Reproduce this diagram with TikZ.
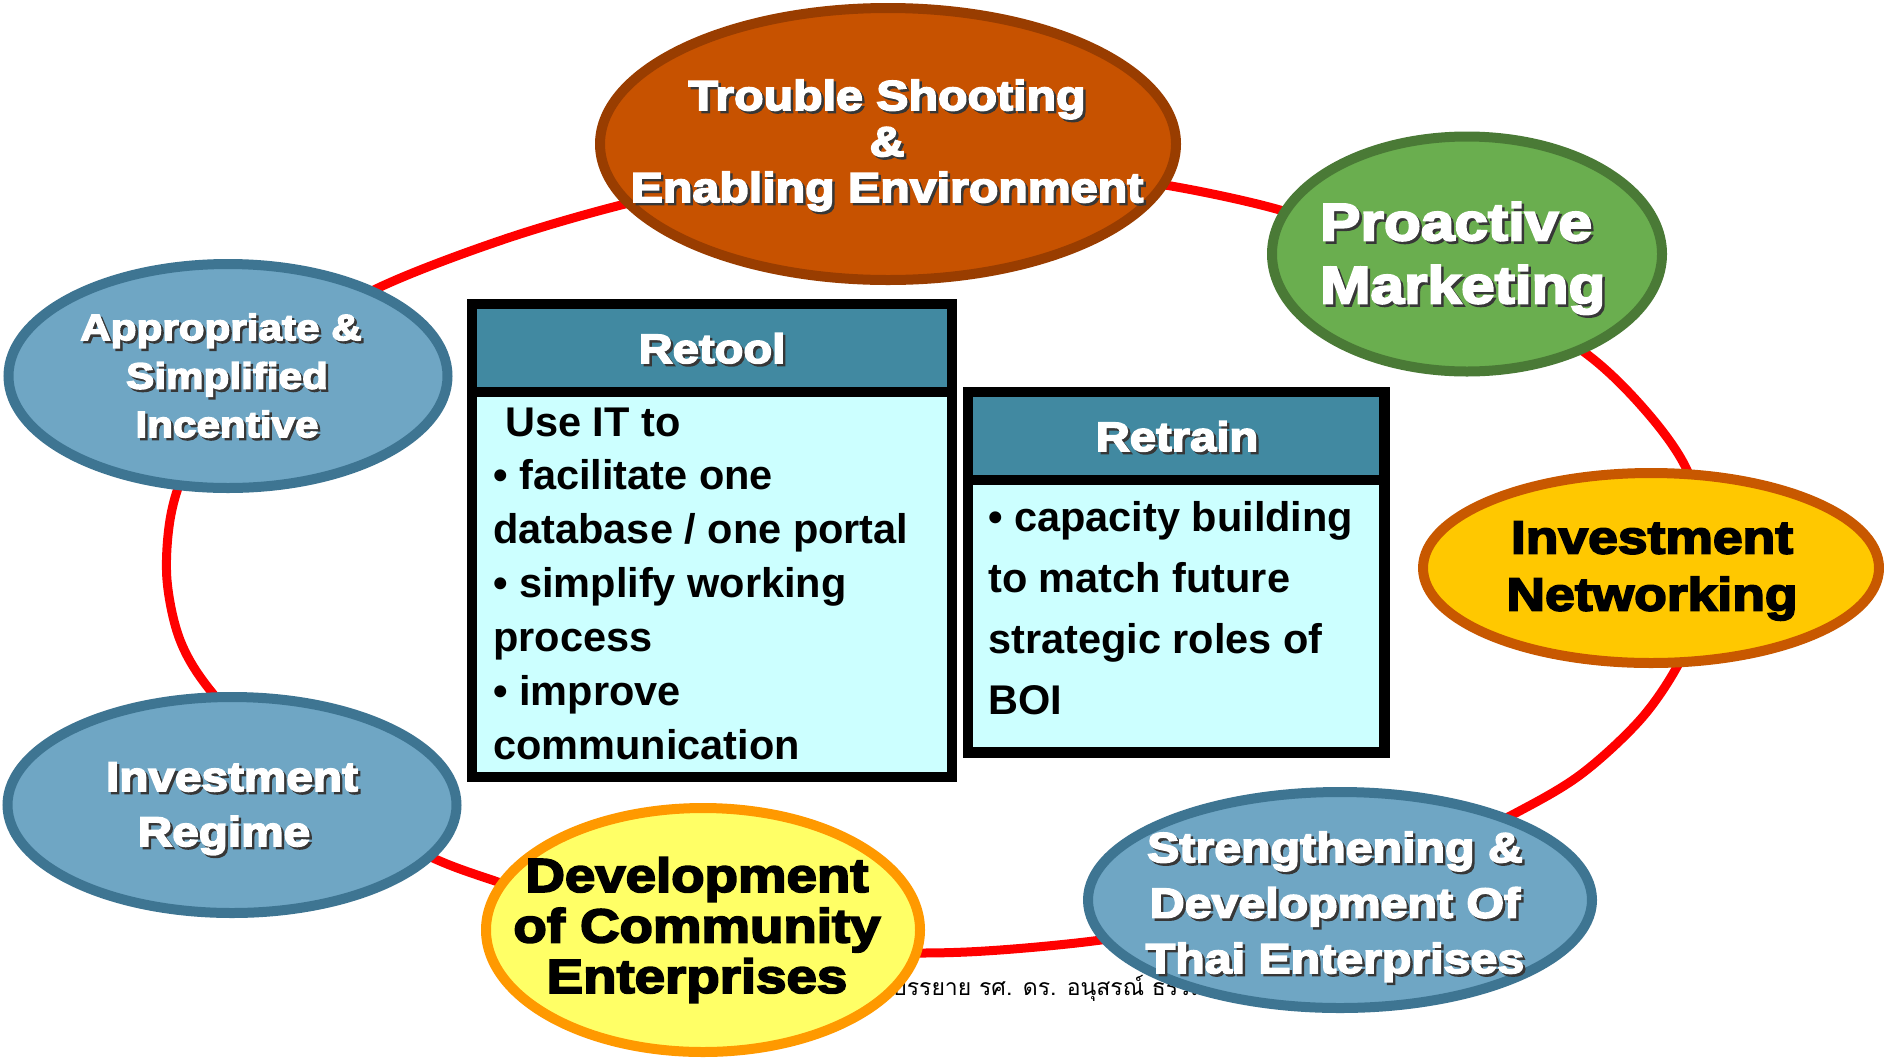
\documentclass[tikz,border=0pt]{standalone}
\usepackage{fontspec}
\setmainfont{Liberation Sans}
\newfontfamily\blackfont{Liberation Sans Bold}[FakeStretch=1.15,FakeBold=4]
\newfontfamily\thaifont{Loma}[Script=Thai]
\usetikzlibrary{shapes.geometric}
\definecolor{ringred}{RGB}{255,0,0}
\definecolor{trfill}{RGB}{199,82,0}
\definecolor{trline}{RGB}{153,61,0}
\definecolor{grfill}{RGB}{106,174,79}
\definecolor{grline}{RGB}{74,122,54}
\definecolor{gofill}{RGB}{255,200,0}
\definecolor{goline}{RGB}{200,88,0}
\definecolor{blfill}{RGB}{111,166,196}
\definecolor{blline}{RGB}{62,117,146}
\definecolor{yefill}{RGB}{255,255,102}
\definecolor{yeline}{RGB}{255,153,0}
\definecolor{headteal}{RGB}{65,137,161}
\definecolor{bodycyan}{RGB}{204,255,255}
\definecolor{shadowgray}{RGB}{55,55,55}
\newcommand\txtshadow[1]{\rlap{\kern2.5pt\raisebox{-2.5pt}{\color{shadowgray}#1}}#1}

\begin{document}
\begin{tikzpicture}[x=1pt,y=1pt,
  ringline/.style={draw=ringred, line width=9pt},
  ellshape/.style={ellipse, line width=10pt, inner sep=0pt, outer sep=0pt},
  boxframe/.style={fill=black, inner sep=0pt, outer sep=0pt},
  boxhead/.style={fill=headteal, inner sep=0pt, outer sep=0pt},
  boxbody/.style={fill=bodycyan, inner sep=0pt, outer sep=0pt},
  ellabel/.style={align=center, inner sep=0pt, anchor=north},
  whitelbl/.style={ellabel, text=white},
  blacklbl/.style={ellabel, text=black},
  bodytxt/.style={align=left, inner sep=0pt, anchor=north west, text=black},
  headtxt/.style={inner sep=0pt, anchor=base, text=white, font=\blackfont\fontsize{41}{46}\selectfont}
]
\fill[white] (0,0) rectangle (1884,-1058);
\useasboundingbox (0,0) rectangle (1884,-1058);

% red ring
\draw[ringline] plot[smooth cycle, tension=0.55] coordinates {
  (862,-168) (990,-171) (1090,-177) (1171,-186) (1280,-210) (1385,-247)
  (1490,-297) (1584,-352) (1645,-410) (1687,-470) (1705,-540) (1700,-610)
  (1678,-665) (1640,-720) (1580,-775) (1512,-815) (1420,-860) (1320,-895)
  (1210,-922) (1101,-940) (1000,-950) (920,-953) (810,-950) (700,-938)
  (600,-915) (498,-882) (433,-858) (350,-815) (275,-760) (210,-690)
  (180,-640) (167,-580) (170,-520) (185,-470) (220,-405) (280,-345)
  (378,-288) (502,-240) (625,-204) (740,-180)};

% footnote (partly hidden)
\node[anchor=base west, inner sep=0pt, font=\thaifont\fontsize{23}{27}\selectfont] (footnote) at (892,-995) {บรรยาย รศ. ดร. อนุสรณ์ ธรรมใจ};

% Retool box
\node[boxframe, minimum width=490, minimum height=483] (retoolframe) at (712,-540.5) {};
\node[boxhead, minimum width=470, minimum height=78] (retoolhead) at (712,-348) {};
\node[boxbody, minimum width=470, minimum height=375] (retoolbody) at (712,-584.5) {};
\node[headtxt] (retooltitle) at (712,-363) {\txtshadow{Retool}};
\node[bodytxt, font=\bfseries\fontsize{41.5}{53.9}\selectfont] (retooltext) at (493,-407.3)
  {\hspace*{12pt}Use IT to\\
   • facilitate one\\
   database / one portal\\
   • simplify working\\
   process\\
   • improve\\
   communication};

% Retrain box
\node[boxframe, minimum width=427, minimum height=371] (retrainframe) at (1176.5,-572.5) {};
\node[boxhead, minimum width=406, minimum height=78] (retrainhead) at (1176,-436) {};
\node[boxbody, minimum width=406, minimum height=262] (retrainbody) at (1176,-616) {};
\node[headtxt] (retraintitle) at (1177,-451) {\txtshadow{Retrain}};
\node[bodytxt, font=\bfseries\fontsize{41.5}{61.2}\selectfont] (retraintext) at (988,-501)
  {• capacity building\\
   to match future\\
   strategic roles of\\
   BOI};

% ellipses
\node[ellshape, draw=trline, fill=trfill, minimum width=576, minimum height=272] (trouble) at (888,-144) {};
\node[ellshape, draw=grline, fill=grfill, minimum width=390, minimum height=235] (proactive) at (1467,-254) {};
\node[ellshape, draw=goline, fill=gofill, minimum width=456, minimum height=190] (networking) at (1651,-568) {};
\node[ellshape, draw=blline, fill=blfill, minimum width=504, minimum height=216] (strengthen) at (1340,-900) {};
\node[ellshape, draw=yeline, fill=yefill, minimum width=434, minimum height=244] (community) at (703,-930) {};
\node[ellshape, draw=blline, fill=blfill, minimum width=449, minimum height=216] (regime) at (232,-805) {};
\node[ellshape, draw=blline, fill=blfill, minimum width=439, minimum height=224] (incentive) at (228,-376) {};

% ellipse labels
\node[whitelbl, font=\blackfont\fontsize{42}{46}\selectfont] (troubletext) at (887,-79.5)
  {\txtshadow{Trouble Shooting}\\\txtshadow{\&}\\\txtshadow{Enabling Environment}};
\node[whitelbl, align=left, anchor=north west, font=\blackfont\fontsize{52.5}{63}\selectfont] (proactivetext) at (1320,-202)
  {\txtshadow{Proactive}\\\txtshadow{Marketing}};
\node[blacklbl, font=\blackfont\fontsize{46.5}{57}\selectfont] (networkingtext) at (1652,-521.3)
  {Investment\\Networking};
\node[whitelbl, font=\blackfont\fontsize{42}{55.5}\selectfont] (strengthentext) at (1335,-831.5)
  {\txtshadow{Strengthening \&}\\\txtshadow{Development Of}\\\txtshadow{Thai Enterprises}};
\node[blacklbl, font=\blackfont\fontsize{47.5}{50.5}\selectfont] (communitytext) at (697,-857.2)
  {Development\\of Community\\Enterprises};
\node[whitelbl, font=\blackfont\fontsize{41.5}{55}\selectfont] (regimetext) at (232,-762.3)
  {\txtshadow{Investment}\\\txtshadow{Regime}\hspace*{16pt}};
\node[whitelbl, font=\blackfont\fontsize{36.7}{48.5}\selectfont] (incentivetext) at (227,-313.4)
  {\txtshadow{Appropriate \&}\hspace*{12pt}\\\txtshadow{Simplified}\\\txtshadow{Incentive}};
\end{tikzpicture}
\end{document}
